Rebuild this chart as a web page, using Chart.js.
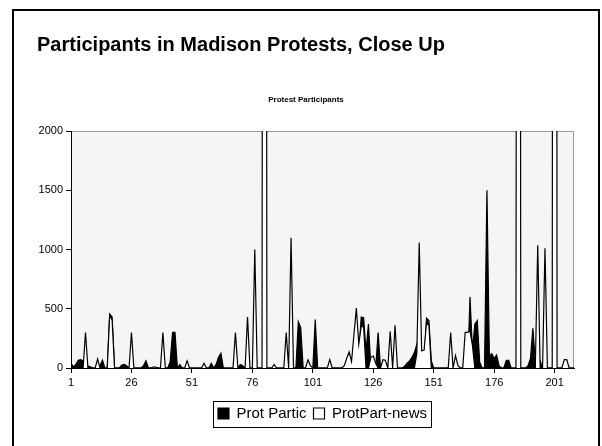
<!DOCTYPE html>
<html>
<head>
<meta charset="utf-8">
<script src="https://cdn.jsdelivr.net/npm/chart.js@4/dist/chart.umd.min.js"></script>
<style>
  html, body { margin: 0; padding: 0; background: #fff; }
  canvas { display: block; }
</style>
</head>
<body>
<canvas id="c" width="602" height="446"></canvas>
<script>
// Day index of each observation
const categories = Array.from({ length: 209 }, (_, i) => i + 1);

// Participants counted at each protest
const protPartic = [
  40, 10, 30, 65, 70, 60, 0, 15, 10, 0,
  0, 0, 20, 65, 0, 0, 455, 430, 0, 0,
  0, 25, 30, 20, 0, 0, 0, 0, 0, 0,
  20, 60, 0, 0, 0, 0, 0, 0, 0, 0,
  0, 50, 300, 300, 0, 30, 0, 0, 0, 0,
  0, 0, 0, 0, 0, 0, 0, 0, 40, 0,
  30, 90, 125, 0, 0, 0, 0, 0, 0, 0,
  30, 20, 0, 0, 0, 0, 0, 0, 0, 0,
  0, 0, 0, 0, 0, 0, 0, 0, 0, 0,
  0, 0, 0, 0, 390, 340, 0, 0, 0, 0,
  0, 410, 0, 0, 0, 0, 0, 0, 0, 0,
  0, 0, 0, 0, 0, 0, 0, 0, 0, 100,
  430, 425, 140, 370, 0, 0, 0, 300, 0, 0,
  0, 0, 0, 0, 0, 0, 0, 0, 15, 40,
  60, 90, 130, 200, 0, 0, 0, 420, 400, 60,
  0, 0, 0, 0, 0, 0, 0, 0, 0, 0,
  0, 0, 0, 0, 0, 600, 150, 370, 400, 50,
  0, 0, 1500, 100, 120, 80, 110, 20, 0, 0,
  65, 65, 0, 0, 0, 0, 0, 0, 0, 20,
  80, 335, 50, 0, 60, 0, 0, 0, 0, 0,
  0, 0, 0, 0, 0, 0, 0, 0, 0
];

// Participants as reported in the news
const protPartNews = [
  0, 0, 0, 0, 0, 0, 300, 0, 0, 0,
  0, 75, 0, 0, 0, 0, 445, 405, 0, 0,
  0, 0, 0, 0, 0, 300, 0, 0, 0, 0,
  0, 0, 0, 0, 8, 8, 0, 0, 300, 0,
  0, 0, 0, 0, 0, 0, 0, 0, 60, 0,
  0, 0, 0, 0, 0, 40, 0, 0, 0, 0,
  0, 0, 0, 0, 0, 0, 0, 0, 300, 0,
  0, 0, 0, 430, 0, 0, 1000, 0, 0, 0,
  25000, 0, 0, 0, 30, 0, 0, 0, 0, 300,
  0, 1100, 0, 0, 0, 0, 0, 0, 70, 20,
  0, 0, 0, 0, 0, 0, 0, 70, 0, 0,
  0, 0, 0, 20, 80, 135, 55, 280, 505, 200,
  350, 350, 0, 0, 90, 100, 40, 0, 0, 70,
  65, 0, 310, 0, 360, 0, 0, 0, 0, 0,
  0, 0, 0, 120, 1060, 145, 150, 380, 360, 0,
  0, 0, 0, 0, 0, 0, 0, 300, 0, 105,
  20, 0, 0, 300, 300, 310, 190, 0, 0, 0,
  0, 0, 0, 0, 0, 0, 0, 0, 0, 0,
  0, 0, 0, 0, 0, 20000, 0, 0, 0, 0,
  0, 0, 0, 1035, 0, 0, 1010, 0, 0, 0,
  30000, 0, 0, 0, 70, 70, 0, 0, 0
];

const seriesNames = ['Prot Partic', 'ProtPart-news'];
const xTickValues = [1, 26, 51, 76, 101, 126, 151, 176, 201];
const yTickStep = 500;
const yMax = 2000;

const pageTitle = 'Participants in Madison Protests, Close Up';
const chartTitle = 'Protest Participants';

const FONT = '"Liberation Sans", Arial, Helvetica, sans-serif';

// Slide frame, plot background, headings and the legend outline
const decorations = {
  id: 'decorations',
  beforeDraw(chart) {
    const { ctx, chartArea: a } = chart;
    ctx.save();
    ctx.fillStyle = '#ffffff';
    ctx.fillRect(0, 0, chart.width, chart.height);

    ctx.strokeStyle = '#000000';
    ctx.lineWidth = 2;
    ctx.beginPath();
    ctx.moveTo(13, chart.height);
    ctx.lineTo(13, 10);
    ctx.lineTo(599, 10);
    ctx.lineTo(599, chart.height);
    ctx.stroke();

    ctx.fillStyle = '#f5f5f5';
    ctx.fillRect(a.left, a.top, a.right - a.left, a.bottom - a.top);
    ctx.strokeStyle = '#9a9a9a';
    ctx.lineWidth = 1;
    ctx.beginPath();
    ctx.moveTo(a.left, a.top + 0.5);
    ctx.lineTo(a.right - 0.5, a.top + 0.5);
    ctx.lineTo(a.right - 0.5, a.bottom);
    ctx.stroke();

    ctx.fillStyle = '#000000';
    ctx.textAlign = 'left';
    ctx.textBaseline = 'alphabetic';
    ctx.font = 'bold 20px ' + FONT;
    ctx.fillText(pageTitle, 37, 51);

    ctx.textAlign = 'center';
    ctx.textBaseline = 'middle';
    ctx.font = 'bold 8px ' + FONT;
    ctx.fillText(chartTitle, 306, 100);
    ctx.restore();
  },
  afterDraw(chart) {
    const legend = chart.legend;
    const boxes = legend && legend.legendHitBoxes;
    if (!boxes || !boxes.length) return;
    let l = Infinity, r = -Infinity;
    boxes.forEach(b => {
      l = Math.min(l, b.left);
      r = Math.max(r, b.left + b.width);
    });
    const cy = boxes[0].top + boxes[0].height / 2;
    const ctx = chart.ctx;
    ctx.save();
    ctx.strokeStyle = '#000000';
    ctx.lineWidth = 1;
    ctx.strokeRect(Math.round(l - 5) + 0.5, Math.round(cy - 13) + 0.5, Math.round(r - l + 9), 26);
    ctx.restore();
  }
};

const tickFont = { family: FONT, size: 11 };

new Chart(document.getElementById('c'), {
  type: 'line',
  data: {
    labels: categories,
    datasets: [
      {
        label: seriesNames[0],
        data: protPartic,
        borderColor: '#000000',
        backgroundColor: '#000000',
        borderWidth: 1.2,
        fill: 'origin',
        order: 1
      },
      {
        label: seriesNames[1],
        data: protPartNews,
        borderColor: '#000000',
        backgroundColor: '#ffffff',
        borderWidth: 1.2,
        fill: 'origin',
        order: 0
      }
    ]
  },
  options: {
    responsive: false,
    animation: false,
    devicePixelRatio: 1,
    layout: { padding: { top: 131, left: 20, right: 28, bottom: 15 } },
    elements: {
      point: { radius: 0, hoverRadius: 0 },
      line: { tension: 0 }
    },
    scales: {
      x: {
        type: 'linear',
        min: categories[0],
        max: categories[categories.length - 1],
        afterBuildTicks(axis) {
          axis.ticks = xTickValues.map(v => ({ value: v }));
        },
        afterFit(axis) { axis.height = 31; },
        grid: { drawOnChartArea: false, drawTicks: true, tickLength: 5, color: '#000000' },
        border: { display: true, color: '#000000', width: 1 },
        ticks: {
          font: tickFont, color: '#000000', padding: 3,
          maxRotation: 0, autoSkip: false,
          callback: v => String(v)
        }
      },
      y: {
        min: 0,
        max: yMax,
        afterFit(axis) { axis.width = 51; },
        grid: { drawOnChartArea: false, drawTicks: true, tickLength: 5, color: '#000000' },
        border: { display: true, color: '#000000', width: 1 },
        ticks: {
          stepSize: yTickStep, font: tickFont, color: '#000000', padding: 3,
          callback: v => String(v)
        }
      }
    },
    plugins: {
      legend: {
        position: 'bottom',
        fullSize: false,
        labels: {
          font: { family: FONT, size: 15 },
          color: '#000000',
          boxWidth: 11,
          boxHeight: 11,
          padding: 7,
          sort: (a, b) => a.datasetIndex - b.datasetIndex
        }
      },
      title: { display: false },
      tooltip: { enabled: false }
    }
  },
  plugins: [decorations]
});
</script>
</body>
</html>
